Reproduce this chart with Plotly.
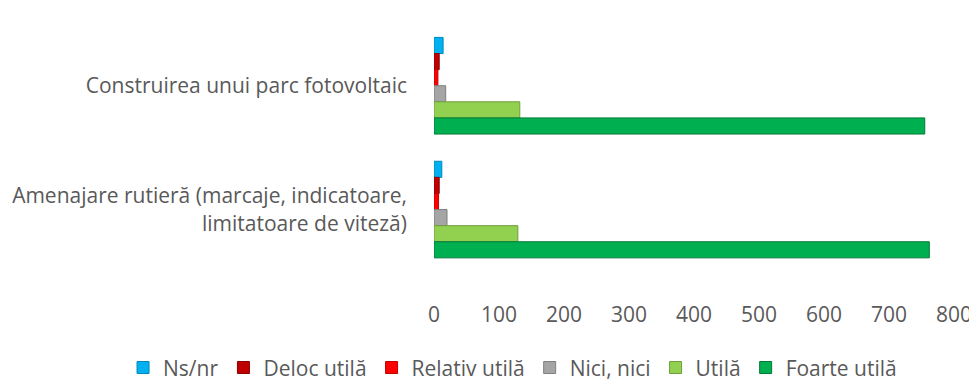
import plotly.graph_objects as go

categories = ["Construirea unui parc fotovoltaic",
              "Amenajare rutieră (marcaje, indicatoare,<br>limitatoare de viteză)"]

series_names = ["Ns/nr", "Deloc utilă", "Relativ utilă", "Nici, nici", "Utilă", "Foarte utilă"]
series_colors = ["#00B0F0", "#C00000", "#FF0000", "#A5A5A5", "#92D050", "#00B050"]
edge_colors = ["#0088BB", "#8B0000", "#C00000", "#7F7F7F", "#6E9E3C", "#007A37"]

ns_nr = [14, 12]
deloc_utila = [8, 8]
relativ_utila = [6, 7]
nici_nici = [18, 20]
utila = [132, 129]
foarte_utila = [755, 762]

values = [ns_nr, deloc_utila, relativ_utila, nici_nici, utila, foarte_utila]

fig = go.Figure()
for name, vals, col, edge in zip(series_names, values, series_colors, edge_colors):
    fig.add_trace(go.Bar(
        y=categories, x=vals, name=name, orientation="h",
        marker=dict(color=col, line=dict(color=edge, width=1)),
    ))

fig.update_layout(
    width=977, height=383,
    barmode="group", bargap=0.22, bargroupgap=0,
    margin=dict(l=426, r=31, t=22, b=96, autoexpand=False),
    paper_bgcolor="white", plot_bgcolor="white",
    font=dict(family="Open Sans, sans-serif", size=21, color="#595959"),
    legend=dict(orientation="h", x=-0.598, xanchor="left", y=-0.275, yanchor="middle",
                font=dict(size=21, color="#595959"), itemwidth=30,
                traceorder="normal"),
    showlegend=True,
)

fig.update_xaxes(range=[0, 800], dtick=100, showgrid=False, zeroline=False,
                 showline=False, ticks="", automargin=False, ticklabelstandoff=5,
                 tickfont=dict(size=21, color="#595959"))
fig.update_yaxes(range=[1.69, -0.45], showgrid=False, zeroline=False, showline=False,
                 ticks="", ticklabelstandoff=26, automargin=False,
                 tickfont=dict(size=21, color="#595959"))

fig.write_html("out.html")
